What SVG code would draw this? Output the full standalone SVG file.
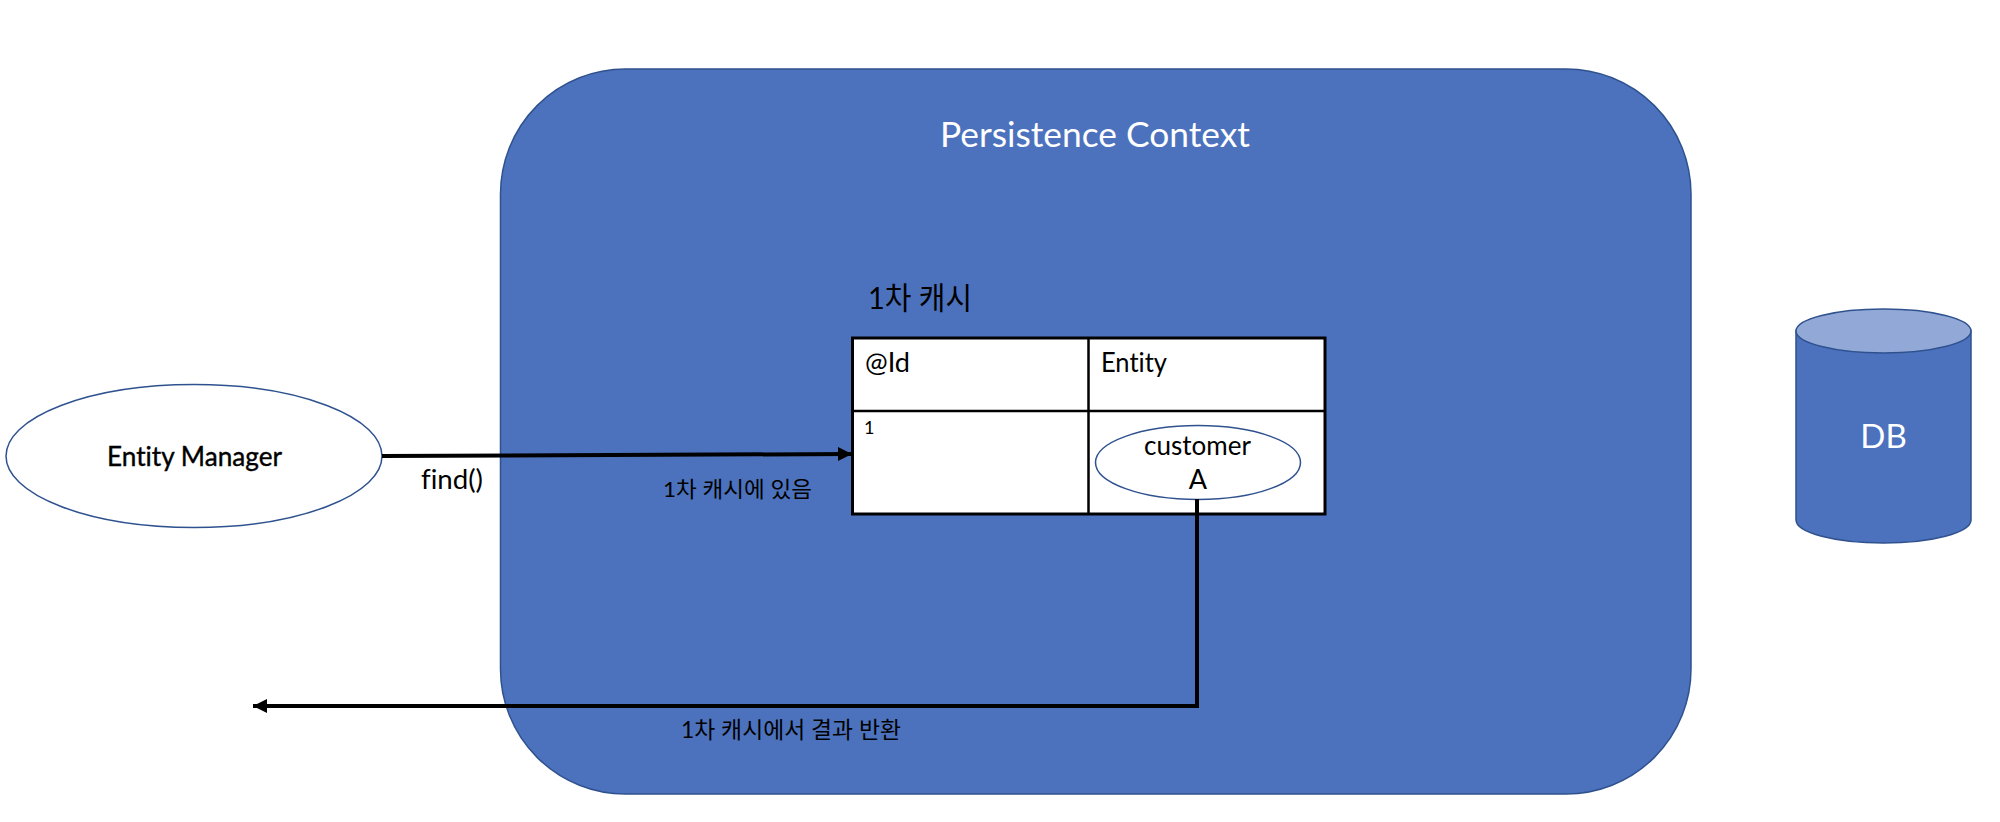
<svg xmlns="http://www.w3.org/2000/svg" width="2000" height="822" viewBox="0 0 2000 822">
<style>
text{font-family:"Lato","Noto Sans CJK KR",sans-serif;fill:#000;font-variant-ligatures:none}
.w{fill:#fff}
.m{text-anchor:middle}
.s{stroke:#2F528F;stroke-width:1.5}
.c{fill:none;stroke:#000;stroke-width:4}
.g{stroke:#000;stroke-width:3;fill:#fff}
</style>
<defs>
<marker id="a" markerUnits="userSpaceOnUse" markerWidth="16" markerHeight="16" refX="14" refY="7" orient="auto"><path d="M0 0L14 7L0 14Z" fill="#000"/></marker>
</defs>
<rect width="2000" height="822" fill="#fff"/>
<g id="persistence-context">
<rect class="s" x="500.500" y="69" width="1190.500" height="725" rx="125" ry="125" fill="#4C72BD"/>
<text class="w m" x="1095" y="147" font-size="35" textLength="310" lengthAdjust="spacingAndGlyphs">Persistence Context</text>
</g>
<g id="cache-title"><text x="868" y="309" font-size="31" textLength="104" lengthAdjust="spacingAndGlyphs">1차 캐시</text></g>
<g id="cache-table">
<rect class="g" x="852.500" y="338" width="472.500" height="176"/>
<path d="M852 411H1325M1088.500 339V514" fill="none" stroke="#000" stroke-width="2.500"/>
<text x="865" y="372" font-size="27" textLength="45" lengthAdjust="spacingAndGlyphs">@Id</text>
<text x="1101" y="372" font-size="27" textLength="66" lengthAdjust="spacingAndGlyphs">Entity</text>
<text x="864" y="434" font-size="18">1</text>
</g>
<g id="customer-a">
<ellipse class="s" cx="1198" cy="462.500" rx="102.500" ry="37" fill="#fff"/>
<text class="m" x="1197.500" y="455" font-size="27" textLength="107" lengthAdjust="spacingAndGlyphs">customer</text>
<text class="m" x="1198" y="489" font-size="27">A</text>
</g>
<g id="entity-manager">
<ellipse class="s" cx="194" cy="456" rx="188" ry="71.500" fill="#fff"/>
<text class="m" x="194.500" y="466" font-size="27" stroke="#000" stroke-width="0.400" textLength="175" lengthAdjust="spacingAndGlyphs">Entity Manager</text>
</g>
<g id="db">
<path class="s" d="M1796 331V520A87.500 23 0 0 0 1971 520V331Z" fill="#4C72BD"/>
<ellipse class="s" cx="1883.500" cy="331" rx="87.500" ry="22" fill="#92A9D8"/>
<text class="w m" x="1883.500" y="448" font-size="33">DB</text>
</g>
<g id="connectors">
<path class="c" d="M382 456L852 454" marker-end="url(#a)"/>
<path class="c" d="M1197 499V706H253" marker-end="url(#a)"/>
</g>
<g id="labels">
<text x="421" y="489" font-size="27" textLength="62" lengthAdjust="spacingAndGlyphs">find()</text>
<text x="663" y="497" font-size="22" textLength="149" lengthAdjust="spacingAndGlyphs">1차 캐시에 있음</text>
<text x="681" y="738" font-size="23" textLength="220" lengthAdjust="spacingAndGlyphs">1차 캐시에서 결과 반환</text>
</g>
</svg>
